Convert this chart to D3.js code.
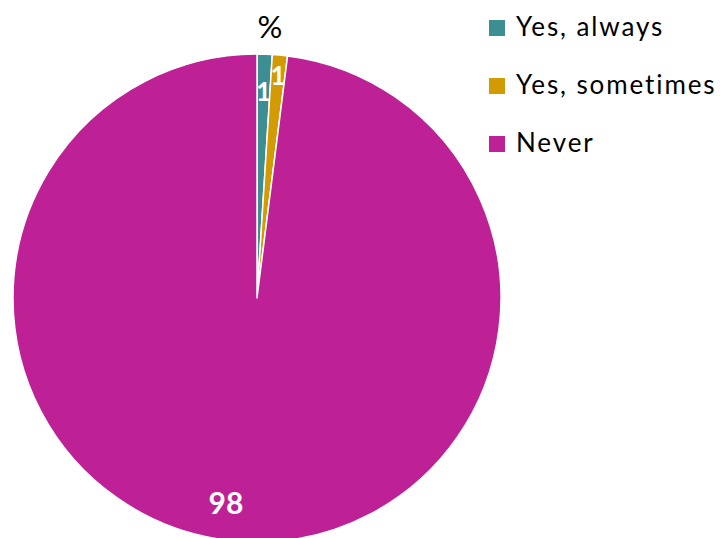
<!DOCTYPE html>
<html>
<head>
<meta charset="utf-8">
<script src="https://cdn.jsdelivr.net/npm/d3@7"></script>
<style>
  html, body { margin: 0; padding: 0; background: #fff; }
  svg { display: block; font-family: Lato, "Open Sans", sans-serif; }
</style>
</head>
<body>
<svg id="chart" width="720" height="538"></svg>
<script>
// Share of respondents per answer (%)
const categories = ["Yes, always", "Yes, sometimes", "Never"];
const values = [1, 1, 98];
const colors = ["#3c8e93", "#d29b04", "#be2196"];
const unitLabel = "%";

const svg = d3.select("#chart");
const cx = 257, cy = 298, radius = 244;

const pie = d3.pie().sort(null).value(d => d.value);
const arcs = pie(categories.map((c, i) => ({ name: c, value: values[i] })));
const color = d3.scaleOrdinal().domain(categories).range(colors);

const g = svg.append("g").attr("transform", `translate(${cx},${cy})`);
const arc = d3.arc().innerRadius(0).outerRadius(radius);

g.selectAll("path.slice")
  .data(arcs)
  .join("path")
  .attr("class", "slice")
  .attr("d", arc)
  .attr("fill", d => color(d.data.name))
  .attr("stroke", "#fff")
  .attr("stroke-width", 1.5)
  .attr("stroke-linejoin", "round");

// Value labels inside the slices
const labelArc = d3.arc().innerRadius(radius * 0.85).outerRadius(radius * 0.85);
g.selectAll("text.value")
  .data(arcs)
  .join("text")
  .attr("class", "value")
  .attr("transform", (d, i) => {
    let [x, y] = labelArc.centroid(d);
    if (i === 1) { x *= 1.08; y *= 1.08; }      // keep the two narrow-slice labels apart
    if (d.data.value > 50) { x -= 18; y -= 3; } // large slice label sits a little left of its centroid
    return `translate(${x},${y})`;
  })
  .attr("text-anchor", "middle")
  .attr("dominant-baseline", "central")
  .attr("fill", "#fff")
  .attr("font-weight", "bold")
  .attr("font-size", d => d.data.value > 50 ? 30 : 26)
  .text(d => d.data.value);

// Unit caption above the pie
svg.append("text")
  .attr("x", 270)
  .attr("y", 38)
  .attr("text-anchor", "middle")
  .attr("font-size", 31)
  .attr("fill", "#000")
  .text(unitLabel);

// Legend
const legend = svg.append("g").attr("transform", "translate(489,20)");
const item = legend.selectAll("g.item")
  .data(categories)
  .join("g")
  .attr("class", "item")
  .attr("transform", (d, i) => `translate(0,${i * 58})`);
item.append("rect")
  .attr("width", 16).attr("height", 16)
  .attr("fill", d => color(d));
item.append("text")
  .attr("x", 27)
  .attr("y", 16)
  .attr("font-size", 26)
  .attr("letter-spacing", 1.9)
  .attr("fill", "#000")
  .text(d => d);
</script>
</body>
</html>
